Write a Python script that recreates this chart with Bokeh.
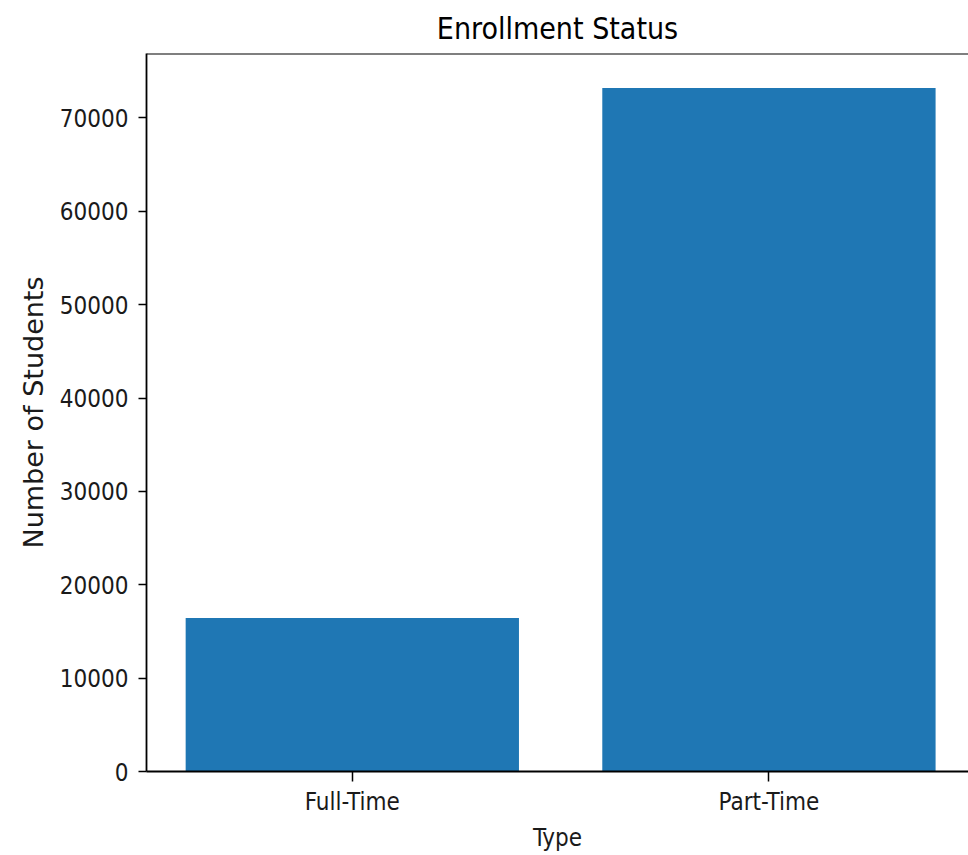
from bokeh.plotting import figure
from bokeh.models import Range1d, FixedTicker, Span
from bokeh.embed import file_html
from bokeh.resources import INLINE

# ---- data ----
categories = ["Full-Time", "Part-Time"]
students = [16450, 73200]
y_ticks = [0, 10000, 20000, 30000, 40000, 50000, 60000, 70000]

title_text = "Enrollment Status"
x_label = "Type"
y_label = "Number of Students"

x_pos = list(range(len(categories)))

COND = "DejaVu Sans Condensed"

p = figure(width=968, height=855, output_backend="svg", toolbar_location=None,
           x_range=Range1d(-0.494, 1.479), y_range=Range1d(0, 76900),
           min_border_left=146, min_border_right=0, min_border_top=53,
           min_border_bottom=84)

p.vbar(x=x_pos, top=students, width=0.8, bottom=0,
       fill_color="#1f77b4", line_color=None)

p.background_fill_color = "white"
p.border_fill_color = "white"
p.outline_line_color = None
p.xgrid.visible = False
p.ygrid.visible = False

# top spine
p.add_layout(Span(location=p.y_range.end, dimension="width",
                  line_color="black", line_width=1.8))

# title
p.title.text = title_text
p.title.align = "center"
p.title.text_font = COND
p.title.text_font_size = "30px"
p.title.text_font_style = "normal"
p.title.text_color = "black"
p.title.standoff = 15
p.title.offset = 3

# x axis
xa = p.xaxis[0]
xa.ticker = FixedTicker(ticks=x_pos)
xa.major_label_overrides = {i: c for i, c in zip(x_pos, categories)}
xa.minor_tick_line_color = None
xa.major_tick_out = 10
xa.major_tick_in = 0
xa.major_tick_line_width = 1.5
xa.axis_line_width = 1.8
xa.axis_line_color = "black"
xa.major_tick_line_color = "black"
xa.major_label_text_font = COND
xa.major_label_text_font_size = "24px"
xa.major_label_text_color = "#1a1a1a"
xa.major_label_standoff = 6
xa.axis_label = x_label
xa.axis_label_text_font = COND
xa.axis_label_text_font_size = "24px"
xa.axis_label_text_font_style = "normal"
xa.axis_label_text_color = "#1a1a1a"
xa.axis_label_standoff = 5

# y axis
ya = p.yaxis[0]
ya.ticker = FixedTicker(ticks=y_ticks)
ya.minor_tick_line_color = None
ya.major_tick_out = 8
ya.major_tick_in = 0
ya.major_tick_line_width = 1.5
ya.axis_line_width = 1.8
ya.axis_line_color = "black"
ya.major_tick_line_color = "black"
ya.major_label_text_font = COND
ya.major_label_text_font_size = "24px"
ya.major_label_text_color = "#1a1a1a"
ya.major_label_standoff = 10
ya.axis_label = y_label
ya.axis_label_text_font = "DejaVu Sans"
ya.axis_label_text_font_size = "27px"
ya.axis_label_text_font_style = "normal"
ya.axis_label_text_color = "#1a1a1a"
ya.axis_label_standoff = 8

open("out.html", "w").write(file_html(p, INLINE))
